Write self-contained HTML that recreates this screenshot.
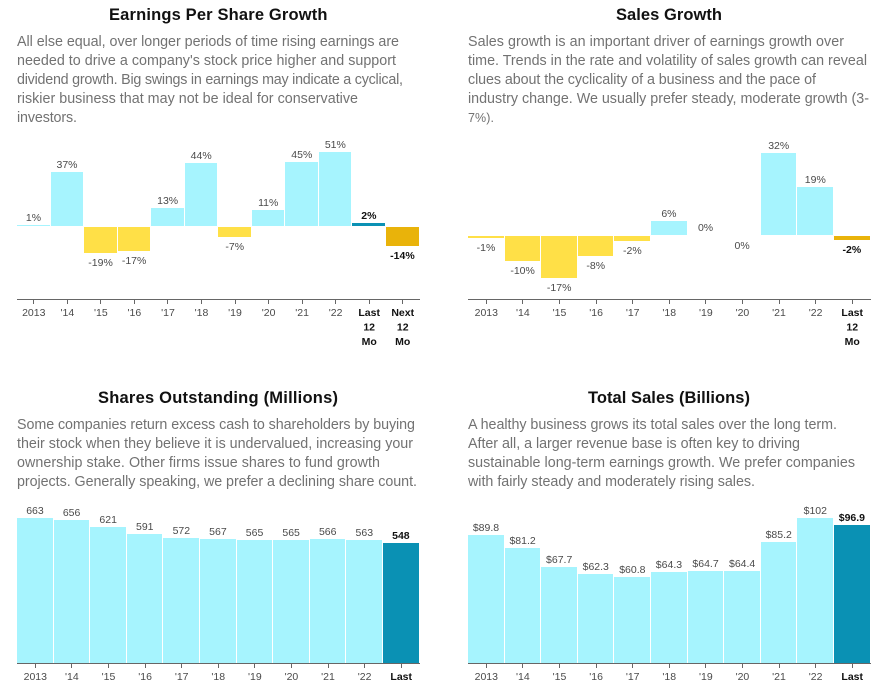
<!DOCTYPE html>
<html lang="en">
<head>
<meta charset="utf-8">
<title>Company growth charts</title>
<style>
html,body{margin:0;padding:0;background:#fff;}
svg{display:block;font-family:"Liberation Sans",sans-serif;}
.title{font-size:16.5px;font-weight:700;fill:#111;}
.para{font-size:14.3px;fill:#727272;}
.val{font-size:10.5px;fill:#4a4a4a;text-anchor:middle;}
.tick{font-size:10.5px;fill:#4a4a4a;text-anchor:middle;}
.hl{font-weight:700;fill:#111;}
</style>
</head>
<body>
<svg id="root" width="876" height="685" viewBox="0 0 876 685" xmlns="http://www.w3.org/2000/svg">
  <g>
    <text class="title" x="109" y="20" textLength="218.5">Earnings Per Share Growth</text>
    <text class="para" x="17" y="46" textLength="382">All else equal, over longer periods of time rising earnings are</text>
    <text class="para" x="17" y="65" textLength="379">needed to drive a company's stock price higher and support</text>
    <text class="para" x="17" y="84" textLength="386">dividend growth. Big swings in earnings may indicate a cyclical,</text>
    <text class="para" x="17" y="103" textLength="341">riskier business that may not be ideal for conservative</text>
    <text class="para" x="17" y="122" textLength="60">investors.</text>
  </g>
  <g>
    <text class="title" x="616" y="20" textLength="106">Sales Growth</text>
    <text class="para" x="468" y="46" textLength="376">Sales growth is an important driver of earnings growth over</text>
    <text class="para" x="468" y="65" textLength="399">time. Trends in the rate and volatility of sales growth can reveal</text>
    <text class="para" x="468" y="84" textLength="348">clues about the cyclicality of a business and the pace of</text>
    <text class="para" x="468" y="103" textLength="401">industry change. We usually prefer steady, moderate growth (3-</text>
    <text class="para" x="468" y="122" style="font-size:12.5px" textLength="26">7%).</text>
  </g>
  <g>
    <text class="title" x="98" y="403" textLength="240">Shares Outstanding (Millions)</text>
    <text class="para" x="17" y="429" textLength="398">Some companies return excess cash to shareholders by buying</text>
    <text class="para" x="17" y="448" textLength="396">their stock when they believe it is undervalued, increasing your</text>
    <text class="para" x="17" y="467" textLength="363">ownership stake. Other firms issue shares to fund growth</text>
    <text class="para" x="17" y="486" textLength="400">projects. Generally speaking, we prefer a declining share count.</text>
  </g>
  <g>
    <text class="title" x="588" y="403" textLength="162">Total Sales (Billions)</text>
    <text class="para" x="468" y="429" textLength="369">A healthy business grows its total sales over the long term.</text>
    <text class="para" x="468" y="448" textLength="332">After all, a larger revenue base is often key to driving</text>
    <text class="para" x="468" y="467" textLength="387">sustainable long-term earnings growth. We prefer companies</text>
    <text class="para" x="468" y="486" textLength="287">with fairly steady and moderately rising sales.</text>
  </g>
</svg>
<script>
var yearTicks = ['2013', "'14", "'15", "'16", "'17", "'18", "'19", "'20", "'21", "'22"];
var epsExtraTicks = ['Last|12|Mo', 'Next|12|Mo'];
var salesExtraTicks = ['Last|12|Mo'];
var levelExtraTicks = ['Last'];
var epsValues = [1, 37.49, -18.51, -17, 12.6, 44, -7, 11, 45, 51.4, 2, -13.6];
var salesGrowthValues = [-0.6, -9.7, -16.6, -7.8, -2, 5.6, 0.1, -0.1, 32.4, 19, -1.6];
var sharesValues = [663, 656, 621, 591, 572, 567, 565, 565, 566, 563, 548];
var totalSalesValues = [89.8, 81.2, 67.7, 62.3, 60.8, 64.3, 64.7, 64.4, 85.2, 102, 96.9];

var NS = 'http://www.w3.org/2000/svg';
var root = document.getElementById('root');
var COLORS = {pos: '#a6f4fe', neg: '#ffe047', posHl: '#0a91b4', negHl: '#e9b30a', axis: '#666666'};

function make(parent, tag, attrs) {
  var el = document.createElementNS(NS, tag);
  for (var k in attrs) el.setAttribute(k, attrs[k]);
  parent.appendChild(el);
  return el;
}
function percentLabel(v) { return String(Math.round(v) + 0).replace('-0', '0') + '%'; }
function plainLabel(v) { return String(v); }
function dollarLabel(v) { return '$' + (v >= 100 ? String(Math.round(v)) : v.toFixed(1)); }

function drawChart(cfg) {
  var n = cfg.values.length;
  var step = (cfg.right - cfg.left) / n;
  var xLeft = function (i) { return Math.round(cfg.left + i * step); };
  var xRight = function (i) { return Math.round(cfg.left + (i + 1) * step - 1); };
  var xMid = function (i) { return cfg.left + (i + 0.5) * step; };
  var yHeight = function (v) { return Math.abs(v) * cfg.pxPerUnit; };

  var g = make(root, 'g', {});
  
  

  cfg.values.forEach(function (v, i) {
    var highlight = i >= n - cfg.highlightCount;
    var positive = v >= 0;
    var h = Math.round(yHeight(v));
    var top = positive ? cfg.zero - h : cfg.zero + cfg.negGap;
    var bottom = positive ? cfg.zero : cfg.zero + cfg.negGap + h;
    if (h > 0) {
      var bar = make(g, 'rect', {
        x: xLeft(i), y: top, width: xRight(i) - xLeft(i), height: h,
        fill: positive ? (highlight ? COLORS.posHl : COLORS.pos) : (highlight ? COLORS.negHl : COLORS.neg),
        'shape-rendering': 'crispEdges'
      });
      
      
    }
    var label = make(g, 'text', {
      x: xMid(i) - 0.3,
      y: positive ? top - 4 : bottom + 13,
      'class': highlight ? 'val hl' : 'val'
    });
    label.textContent = cfg.format(v);
    
    

    var tick = make(g, 'rect', {
      x: Math.round(xMid(i) - 0.5), y: cfg.axisY, width: 1, height: 5,
      fill: COLORS.axis, 'shape-rendering': 'crispEdges'
    });
    
    

    var lines = cfg.ticks[i].split('|');
    lines.forEach(function (line, j) {
      var t = make(g, 'text', {
        x: xMid(i),
        y: cfg.axisY + 17 + j * 14.5,
        'class': highlight ? 'tick hl' : 'tick'
      });
      t.textContent = line;
      
      
    });
  });

  var axis = make(g, 'rect', {
    x: cfg.left, y: cfg.axisY, width: cfg.right - cfg.left + 0.5, height: 1,
    fill: COLORS.axis, 'shape-rendering': 'crispEdges'
  });
  
  
}

drawChart({name: 'eps-growth', values: epsValues, ticks: yearTicks.concat(epsExtraTicks),
  left: 17, right: 419.5, zero: 226, negGap: 1, pxPerUnit: 1.43, axisY: 299,
  highlightCount: 2, format: percentLabel});
drawChart({name: 'sales-growth', values: salesGrowthValues, ticks: yearTicks.concat(salesExtraTicks),
  left: 468, right: 870.5, zero: 235, negGap: 1, pxPerUnit: 2.53, axisY: 299,
  highlightCount: 1, format: percentLabel});
drawChart({name: 'shares-outstanding', values: sharesValues, ticks: yearTicks.concat(levelExtraTicks),
  left: 17, right: 419.5, zero: 663, negGap: 0, pxPerUnit: 0.2185, axisY: 663,
  highlightCount: 1, format: plainLabel});
drawChart({name: 'total-sales', values: totalSalesValues, ticks: yearTicks.concat(levelExtraTicks),
  left: 468, right: 870.5, zero: 663, negGap: 0, pxPerUnit: 1.422, axisY: 663,
  highlightCount: 1, format: dollarLabel});
</script>
</body>
</html>
